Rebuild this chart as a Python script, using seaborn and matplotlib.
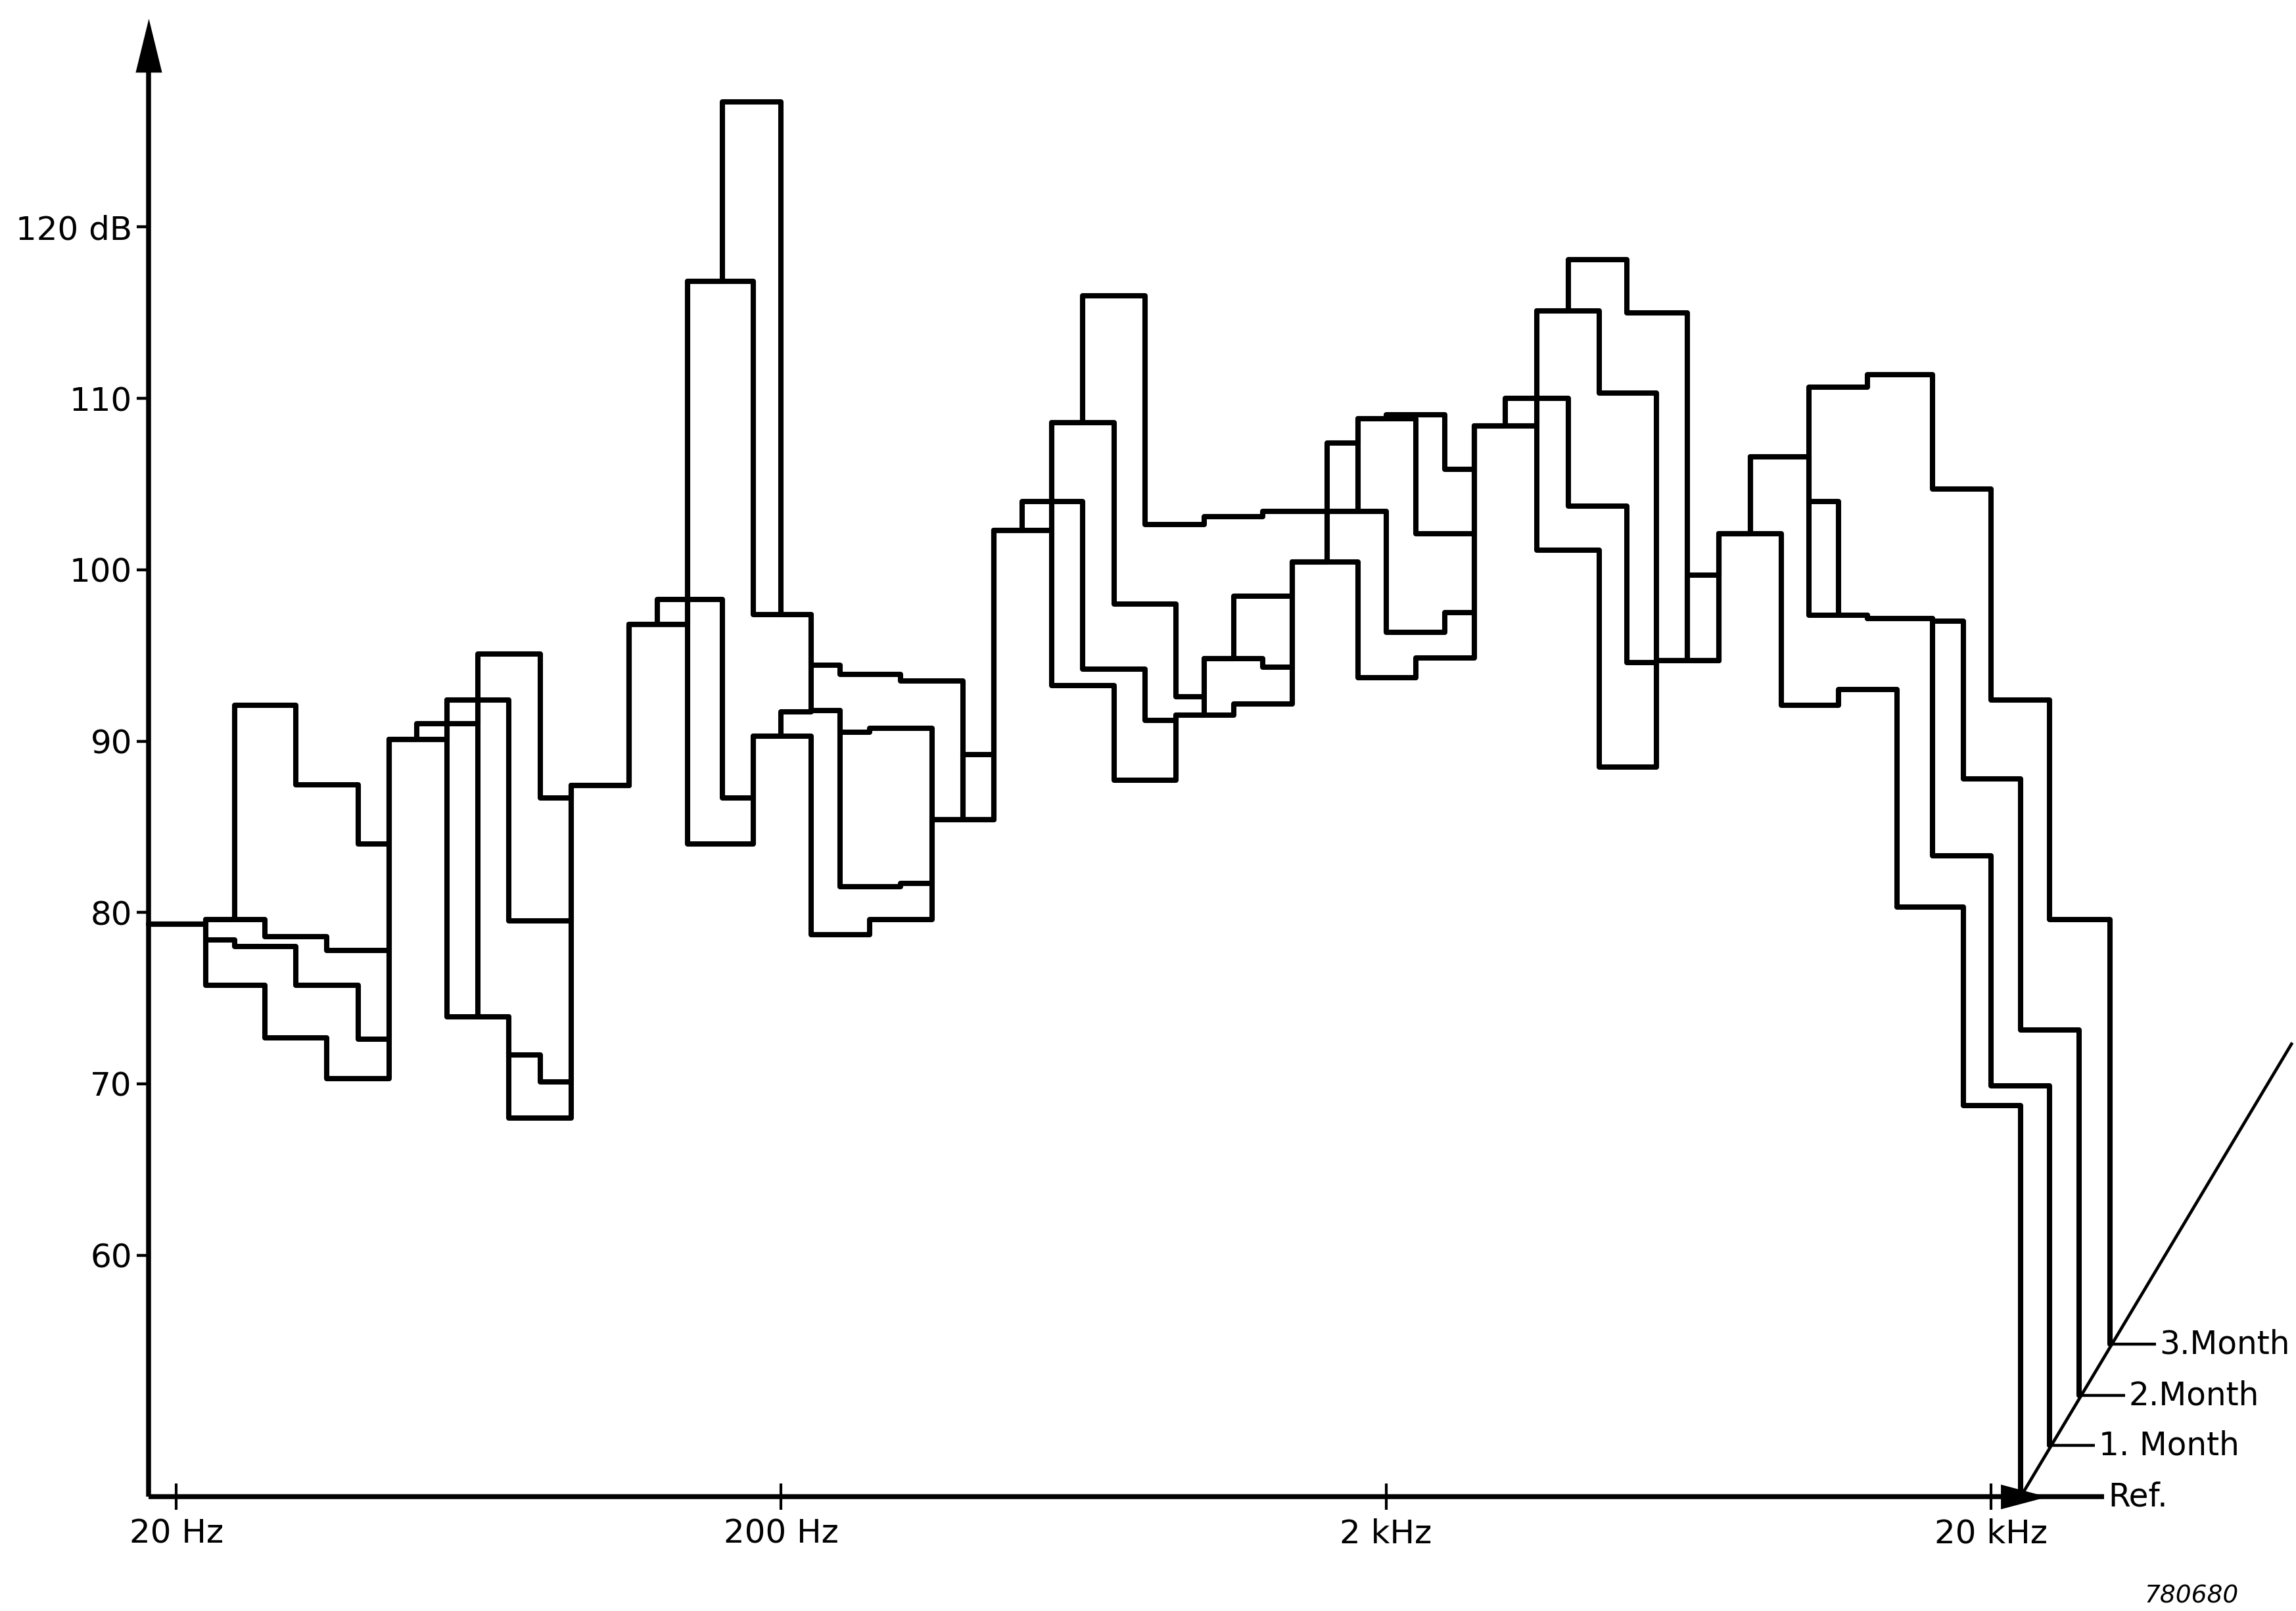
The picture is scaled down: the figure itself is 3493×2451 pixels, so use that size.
import matplotlib
matplotlib.use("Agg")
import matplotlib.pyplot as plt
import pandas as pd
import seaborn as sns

# 1/6-octave grid of band edges (Hz) used by the analyser traces
band_edges = [18, 20, 22.4, 25, 28, 31.5, 35.5, 40, 45, 50, 56, 63, 71, 80, 90,
              100, 112, 125, 140, 160, 180, 200, 224, 250, 280, 315, 355, 400,
              450, 500, 560, 630, 710, 800, 900, 1000, 1120, 1250, 1400, 1600,
              1800, 2000, 2240, 2500, 2800, 3150, 3550, 4000, 4500, 5000, 5600,
              6300, 7100, 8000, 9000, 10000, 11200, 12500, 14000, 16000, 18000,
              20000, 22400, 25000, 28000, 31500]

# plotted level (dB) of each trace in every grid cell, starting at the lowest edge
ref_levels = [79.3, 79.3, 75.75, 75.75, 72.7, 72.7, 70.3, 70.3, 90.1, 90.1,
              73.9, 73.9, 68.0, 68.0, 87.4, 87.4, 96.8, 96.8, 84.0, 84.0,
              90.3, 90.3, 78.7, 78.7, 79.6, 79.6, 85.4, 85.4, 102.3, 102.3,
              93.25, 93.25, 87.7, 87.7, 91.5, 91.5, 92.15, 92.15, 100.45, 100.45,
              93.7, 93.7, 94.85, 94.85, 108.4, 108.4, 101.15, 101.15, 88.5, 88.5,
              94.7, 94.7, 102.1, 102.1, 92.1, 92.1, 93.0, 93.0, 80.3, 80.3,
              68.75, 68.75]

month1_levels = [79.3, 79.3, 78.4, 78.0, 78.0, 75.75, 75.75, 72.6, 90.1, 90.1,
                 92.4, 73.9, 71.7, 70.1, 87.4, 87.4, 96.8, 96.8, 116.85, 116.85,
                 97.4, 97.4, 91.8, 81.5, 81.5, 81.7, 85.4, 85.4, 102.3, 102.3,
                 108.6, 108.6, 98.0, 98.0, 92.6, 94.8, 98.45, 98.45, 100.45, 107.4,
                 108.8, 109.05, 109.05, 105.85, 108.4, 110.0, 110.0, 103.7, 103.7, 94.6,
                 94.7, 94.7, 102.1, 106.6, 106.6, 97.35, 97.35, 97.15, 97.15, 83.3,
                 83.3, 69.9, 69.9]

month2_levels = [79.3, 79.3, 79.6, 79.6, 78.6, 78.6, 77.8, 77.8, 90.1, 90.1,
                 92.4, 92.4, 79.5, 79.5, 87.4, 87.4, 96.8, 96.8, 116.85, 127.3,
                 127.3, 97.4, 94.45, 93.9, 93.9, 93.5, 93.5, 85.4, 102.3, 102.3,
                 108.6, 116.0, 116.0, 102.65, 102.65, 103.1, 103.1, 103.4, 103.4, 103.4,
                 103.4, 96.35, 96.35, 97.5, 108.4, 108.4, 115.1, 118.1, 118.1, 115.0,
                 115.0, 94.7, 102.1, 106.6, 106.6, 104.0, 97.35, 97.15, 97.15, 97.0,
                 87.8, 87.8, 73.15, 73.15]

month3_levels = [79.3, 79.3, 79.6, 92.1, 92.1, 87.45, 87.45, 84.0, 90.1, 91.0,
                 91.0, 95.1, 95.1, 86.7, 87.4, 87.4, 96.8, 98.25, 98.25, 86.7,
                 90.3, 91.7, 91.8, 90.5, 90.75, 90.75, 85.4, 89.2, 102.3, 104.0,
                 104.0, 94.2, 94.2, 91.2, 91.5, 94.8, 94.8, 94.3, 100.45, 103.4,
                 108.8, 108.8, 102.1, 102.1, 108.4, 108.4, 115.1, 115.1, 110.3, 110.3,
                 94.7, 99.7, 102.1, 106.6, 106.6, 110.65, 110.65, 111.4, 111.4, 104.7,
                 104.7, 92.4, 92.4, 79.6, 79.6]

series_names = ["Ref.", "1. Month", "2.Month", "3.Month"]
series_levels = [ref_levels, month1_levels, month2_levels, month3_levels]
# each later trace is lifted onto its own baseline along the time axis
baseline_levels = [45.9, 48.9, 51.8, 54.8]

freq_ticks = [20, 200, 2000, 20000]
freq_labels = ["20 Hz", "200 Hz", "2 kHz", "20 kHz"]
level_ticks = [60, 70, 80, 90, 100, 110, 120]
level_labels = ["60", "70", "80", "90", "100", "110", "120 dB"]

sns.set_theme(style="white")
plt.rcParams["font.family"] = ["DejaVu Sans"]

fig = plt.figure(figsize=(34.93, 24.51), dpi=100)
ax = fig.add_axes([0.0647, 0.0709, 0.9353, 0.9291])
for spine in ax.spines.values():
    spine.set_visible(False)
ax.set_xscale("log")
ax.set_xlim(18, 63900)
ax.set_ylim(45.9, 133.25)

lw = 5.8
ink = "black"

# stepped spectra, each ending with a drop to its own baseline
for name, levels, base in zip(series_names, series_levels, baseline_levels):
    n = len(levels)
    df = pd.DataFrame({"freq": band_edges[:n + 1], "level": list(levels) + [base]})
    sns.lineplot(data=df, x="freq", y="level", sort=False, estimator=None,
                 drawstyle="steps-post", color=ink, linewidth=lw,
                 clip_on=False, ax=ax, legend=False)

ax.set_xlabel("")
ax.set_ylabel("")

# level axis with arrow
x0 = band_edges[0]
ax.plot([x0, x0], [baseline_levels[0], 129.6], color=ink, lw=5.4,
        clip_on=False, solid_capstyle="butt")
ax.plot([x0], [130.6], marker=[(-0.49, -1), (0.49, -1), (0, 1)], markersize=59,
        color=ink, mew=0, clip_on=False)

# frequency axis with arrow, continued as the leader for the reference trace
ref_end = band_edges[len(ref_levels)]
ax.plot([x0, ref_end * 1.375], [baseline_levels[0]] * 2, color=ink, lw=5.4,
        clip_on=False, solid_capstyle="butt")
ax.plot([ref_end * 1.013], [baseline_levels[0]], marker=[(-1, -0.53), (-1, 0.53), (1, 0)],
        markersize=51, color=ink, mew=0, clip_on=False)

# time axis through the baseline of every trace
ax.plot([ref_end, 63000], [baseline_levels[0], 72.4], color=ink, lw=3.4,
        clip_on=False, solid_capstyle="butt")

# trace labels with short leaders
for i, (name, levels, base) in enumerate(zip(series_names, series_levels, baseline_levels)):
    end = band_edges[len(levels)]
    if i == 0:
        lead_end = end * 1.375
    else:
        lead_end = end * 1.19
        ax.plot([end, lead_end], [base, base], color=ink, lw=3.2,
                clip_on=False, solid_capstyle="butt")
    ax.annotate(name, xy=(lead_end, base), xytext=(4, 0), textcoords="offset points",
                ha="left", va="center", fontsize=35, color=ink, annotation_clip=False)

ax.set_xticks(freq_ticks)
ax.set_xticklabels(freq_labels)
ax.xaxis.set_minor_locator(matplotlib.ticker.NullLocator())
ax.set_yticks(level_ticks)
ax.set_yticklabels(level_labels)
ax.yaxis.set_minor_locator(matplotlib.ticker.NullLocator())
ax.tick_params(axis="x", direction="inout", length=29, width=3.0, pad=9,
               labelsize=36, colors=ink, bottom=True)
ax.tick_params(axis="y", direction="out", length=13, width=3.2, pad=5,
               labelsize=36, colors=ink, left=True)

fig.text(0.975, 0.009, "780680", ha="right", va="center", fontsize=27,
         style="italic", color=ink)

fig.savefig("out.png", dpi=100, facecolor="white")
